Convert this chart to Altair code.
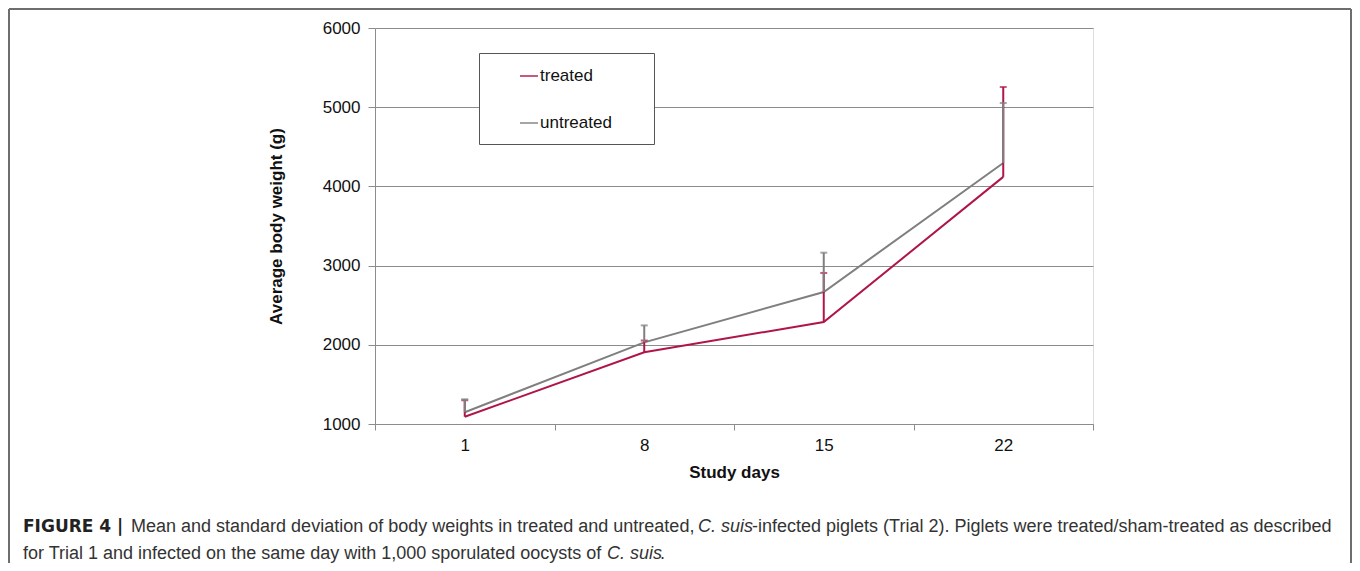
import altair as alt
import pandas as pd

# ---------------- data ----------------
days = ["1", "8", "15", "22"]
groups = ["treated", "untreated"]
treated_mean = [1092, 1905, 2288, 4120]
treated_sd = [208, 149, 619, 1135]
untreated_mean = [1148, 2031, 2667, 4295]
untreated_sd = [164, 214, 496, 758]
y_ticks = [1000, 2000, 3000, 4000, 5000, 6000]
x_title = "Study days"
y_title = "Average body weight (g)"

cap_bold = "FIGURE 4 |"
cap_l1a = "Mean and standard deviation of body weights in treated and untreated,"
cap_ital = "C. suis"
cap_l1b = "-infected piglets (Trial 2). Piglets were treated/sham-treated as described"
cap_l2a = "for Trial 1 and infected on the same day with 1,000 sporulated oocysts of"
cap_l2b = "."

rows = []
for g, means, sds in [("treated", treated_mean, treated_sd),
                      ("untreated", untreated_mean, untreated_sd)]:
    for d, m, s in zip(days, means, sds):
        rows.append({"day": d, "group": g, "mean": m, "upper": m + s})
df = pd.DataFrame(rows)

RED = "#b0154a"
GREY = "#7f7f7f"
AX = "#8c8c8c"
FONT = "Liberation Sans"

# plot area origin on the page
OX, OY = 375, 28
W, H = 718, 396
CANVAS_W, CANVAS_H = 1344, 555

color = alt.Color(
    "group:N",
    scale=alt.Scale(domain=groups, range=[RED, GREY]),
    legend=alt.Legend(
        orient="none", legendX=104, legendY=25, title=None,
        symbolType="stroke", symbolSize=324, symbolStrokeWidth=2,
        labelFont=FONT, labelFontSize=17, labelColor="#111",
        labelOffset=1, padding=13, symbolOffset=27, rowPadding=29,
        strokeColor="#555", fillColor="white",
        labelExpr="datum.label + '\u00a0\u00a0\u00a0\u00a0\u00a0\u00a0\u200b'",
    ),
)

x = alt.X(
    "day:O", sort=days,
    scale=alt.Scale(type="band", paddingInner=0, paddingOuter=0),
    bandPosition=0.5,
    axis=alt.Axis(
        title=x_title, titleFont=FONT, titleFontSize=17, titleFontWeight="bold",
        titleColor="#111", titleBaseline="middle", titleY=48,
        labelFont=FONT, labelFontSize=17, labelColor="#111", labelAngle=0,
        labelPadding=7, tickBand="extent", tickSize=6, tickColor=AX,
        domainColor=AX, grid=False,
    ),
)
y = alt.Y(
    "mean:Q",
    scale=alt.Scale(domain=[1000, 6000], nice=False, zero=False),
    axis=alt.Axis(
        values=y_ticks, format="d", title=y_title, titleFont=FONT, titleFontSize=17,
        titleFontWeight="bold", titleColor="#111", titleBaseline="middle",
        titleX=-99, titleY=H / 2,
        labelFont=FONT, labelFontSize=17, labelColor="#111", labelPadding=8,
        tickSize=7, tickColor=AX, domainColor=AX, grid=True, gridColor=AX,
    ),
)

base = alt.Chart(df)

def errbars(g):
    sub = base.transform_filter(alt.datum.group == g)
    rule = sub.mark_rule(strokeWidth=2).encode(x=x, y=y, y2="upper:Q", color=color)
    cap = sub.mark_tick(orient="horizontal", size=7, thickness=2).encode(
        x=x, y=alt.Y("upper:Q"), color=color)
    return rule + cap

lines = base.mark_line(strokeWidth=2).encode(x=x, y=y, color=color)

one = alt.Data(values=[{}])

def frame_line(x1, y1, x2, y2):
    return alt.Chart(one).mark_rule(stroke="#6e6e6e", strokeWidth=2).encode(
        x=alt.value(x1 - OX), x2=alt.value(x2 - OX),
        y=alt.value(y1 - OY), y2=alt.value(y2 - OY),
    )

bottom = 8 + CANVAS_H
frame = (
    frame_line(9, 9, 1351, 9)
    + frame_line(9, 9, 9, bottom)
    + frame_line(1351, 9, 1351, bottom)
)

def txt(s, px, py, weight="normal", style="normal", col="#333", font=FONT, size=18):
    return alt.Chart(one).mark_text(
        align="left", baseline="alphabetic", font=font, fontSize=size,
        fontWeight=weight, fontStyle=style, color=col,
    ).encode(x=alt.value(px - OX), y=alt.value(py - OY), text=alt.value(s))

caption = (
    txt(cap_bold, 23, 532, weight="bold", col="#222", font="DejaVu Sans", size=17)
    + txt(cap_l1a, 131, 532)
    + txt(cap_ital, 698, 532, style="italic")
    + txt(cap_l1b, 752, 532)
    + txt(cap_l2a, 23, 559)
    + txt(cap_ital, 607, 559, style="italic")
    + txt(cap_l2b, 660, 559)
)

chart = alt.layer(
    frame, lines, errbars("treated"), errbars("untreated"), caption
).properties(
    width=W, height=H,
    padding={"left": OX - 8, "top": OY - 8,
             "right": CANVAS_W - (OX - 8) - W, "bottom": CANVAS_H - (OY - 8) - H},
    autosize=alt.AutoSizeParams(type="none"),
).configure_view(stroke=None).configure(background="white")

chart.save("out.html", embed_options={"renderer": "svg", "actions": False})
